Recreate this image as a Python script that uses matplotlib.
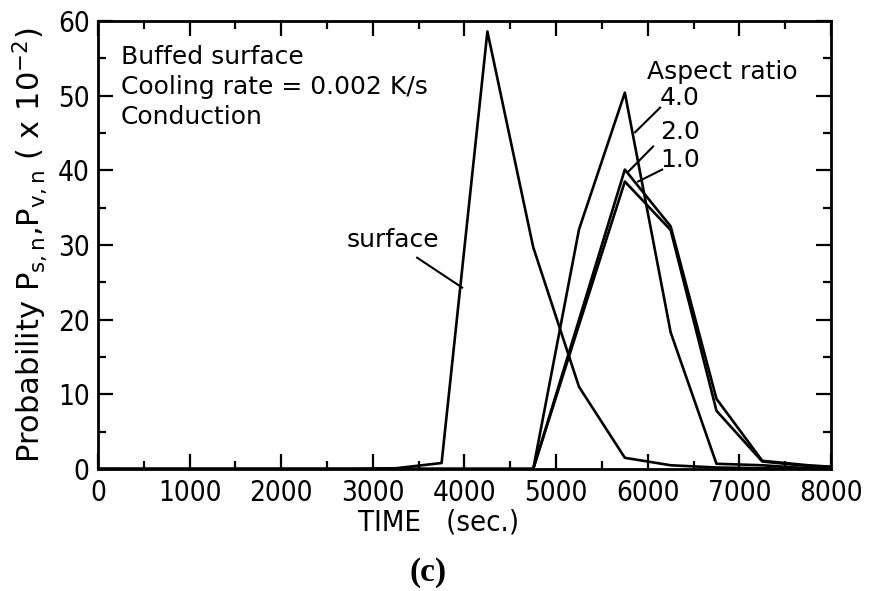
import matplotlib
matplotlib.use("Agg")
import matplotlib.pyplot as plt
from matplotlib.ticker import MultipleLocator

# ---- data ----
time = [0, 250, 750, 1250, 1750, 2250, 2750, 3250, 3750, 4250, 4750,
        5250, 5750, 6250, 6750, 7250, 7750, 8000]
surface = [0, 0, 0, 0, 0, 0, 0, 0.1, 0.8, 58.6, 29.7,
           11.0, 1.5, 0.5, 0.2, 0.1, 0.0, 0.0]
ar_4 = [0, 0, 0, 0, 0, 0, 0, 0, 0, 0, 0,
        32.1, 50.4, 18.3, 0.7, 0.5, 0.1, 0.0]
ar_2 = [0, 0, 0, 0, 0, 0, 0, 0, 0, 0, 0,
        20.0, 40.1, 32.5, 9.4, 1.1, 0.5, 0.3]
ar_1 = [0, 0, 0, 0, 0, 0, 0, 0, 0, 0, 0,
        19.3, 38.5, 32.0, 7.8, 1.0, 0.4, 0.3]

xticks = [0, 1000, 2000, 3000, 4000, 5000, 6000, 7000, 8000]
yticks = [0, 10, 20, 30, 40, 50, 60]

info_lines = ["Buffed surface", "Cooling rate = 0.002 K/s", "Conduction"]
ar_labels = ["4.0", "2.0", "1.0"]

# ---- figure ----
fig = plt.figure(figsize=(8.7, 5.91), dpi=100)
ax = fig.add_axes([98/870, 1-469/591, (831-98)/870, (469-21)/591])

lw = 1.9
ax.plot(time, surface, color="black", lw=lw)
ax.plot(time, ar_4, color="black", lw=lw)
ax.plot(time, ar_2, color="black", lw=lw)
ax.plot(time, ar_1, color="black", lw=lw)

ax.set_xlim(0, 8000)
ax.set_ylim(0, 60)
ax.set_xticks(xticks)
ax.set_yticks(yticks)
ax.xaxis.set_minor_locator(MultipleLocator(500))
ax.yaxis.set_minor_locator(MultipleLocator(5))

tick_font = dict(family="DejaVu Sans", stretch="condensed", size=20)
ax.tick_params(which="both", direction="in", top=True, right=True, width=1.6)
ax.tick_params(which="major", length=11)
ax.tick_params(which="minor", length=5.5)
ax.tick_params(axis="x", which="major", pad=7)
ax.tick_params(axis="y", which="major", pad=6)
ax.set_xticklabels([str(t) for t in xticks], fontdict=tick_font)
ax.set_yticklabels([str(t) for t in yticks], fontdict=tick_font)
for s in ax.spines.values():
    s.set_linewidth(2.0)

# annotations
txt_font = dict(family="DejaVu Sans", size=18)
for line, y in zip(info_lines, [55.2, 51.2, 47.1]):
    ax.text(251, y, line, ha="left", va="center", **txt_font)

ax.text(2718, 30.7, "surface", ha="left", va="center", **txt_font)
ax.plot([3483, 3974], [28.3, 24.3], color="black", lw=1.5)

ax.text(6812, 53.2, "Aspect ratio", ha="center", va="center", **txt_font)
for lab, y in zip(ar_labels, [49.7, 45.2, 41.4]):
    ax.text(6354, y, lab, ha="center", va="center", **txt_font)
ax.plot([6135, 5862], [48.4, 45.1], color="black", lw=1.5)
ax.plot([6059, 5786], [43.2, 39.8], color="black", lw=1.5)
ax.plot([6157, 5895], [40.1, 38.5], color="black", lw=1.5)

fig.text(30/870, 1-245/591,
         r"Probability $\mathregular{P_{s,n}}$,$\mathregular{P_{v,n}}$ ( x 10$^{-2}$)",
         rotation=90, ha="center", va="center", family="DejaVu Sans", size=22)
fig.text(439/870, 1-522/591, "TIME   (sec.)", ha="center", va="center",
         family="DejaVu Sans", stretch="condensed", size=21)
fig.text(428/870, 1-572/591, "(c)", ha="center", va="center",
         family="Liberation Serif", weight="bold", size=24)

fig.savefig("out.png", dpi=100)
